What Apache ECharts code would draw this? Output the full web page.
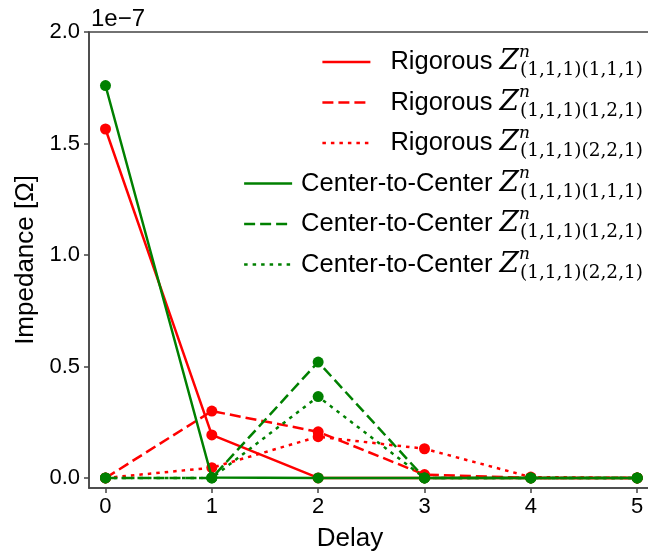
<!DOCTYPE html>
<html>
<head>
<meta charset="UTF-8">
<title>Impedance vs Delay</title>
<script src="https://cdn.jsdelivr.net/npm/echarts@6/dist/echarts.min.js"></script>
<style>
  body { margin:0; background:#fff; }
  #main { width:648px; height:551px; }
</style>
</head>
<body>
<div id="main"></div>
<script>
// delay index
var delays = [0, 1, 2, 3, 4, 5];
// values in units of 1e-7 Ohm
var rigorous111 = [1.565, 0.193, 0.0, 0.0, 0.0, 0.0];
var rigorous121 = [0.0, 0.300, 0.207, 0.015, 0.0, 0.0];
var rigorous221 = [0.0, 0.046, 0.185, 0.131, 0.004, 0.0];
var c2c111 = [1.76, 0.002, 0.0, 0.0, 0.0, 0.0];
var c2c121 = [0.0, 0.0, 0.520, 0.0, 0.0, 0.0];
var c2c221 = [0.0, 0.0, 0.365, 0.0, 0.0, 0.0];

var yTicks = [0, 0.5, 1.0, 1.5, 2.0];
var xTicks = [0, 1, 2, 3, 4, 5];
var offsetText = '1e\u22127';

var labelPrefix = ['Rigorous', 'Rigorous', 'Rigorous', 'Center-to-Center', 'Center-to-Center', 'Center-to-Center'];
var labelSub = ['(1,1,1)(1,1,1)', '(1,1,1)(1,2,1)', '(1,1,1)(2,2,1)', '(1,1,1)(1,1,1)', '(1,1,1)(1,2,1)', '(1,1,1)(2,2,1)'];
var seriesData = [rigorous111, rigorous121, rigorous221, c2c111, c2c121, c2c221];
var seriesColor = ['#ff0000', '#ff0000', '#ff0000', '#008000', '#008000', '#008000'];
var seriesDash = ['solid', [11, 5], [3.5, 5], 'solid', [11, 5], [3.5, 5]];

var FONT = 'Liberation Sans, Arial, sans-serif';
var MATH = 'DejaVu Serif, serif';

var names = [];
for (var i = 0; i < labelPrefix.length; i++) names.push(labelPrefix[i] + ' Z' + labelSub[i]);

var series = [];
for (var i = 0; i < names.length; i++) {
  var pts = [];
  for (var k = 0; k < delays.length; k++) pts.push([delays[k], seriesData[i][k]]);
  series.push({
    name: names[i],
    type: 'line',
    data: pts,
    symbol: 'circle',
    symbolSize: 11,
    showSymbol: true,
    color: seriesColor[i],
    itemStyle: { color: seriesColor[i] },
    lineStyle: { color: seriesColor[i], width: 2.5, type: seriesDash[i], cap: 'butt' },
    animation: false,
    z: 2 + i
  });
}

var rich = {
  t: { fontFamily: FONT, fontSize: 25.5, color: '#000', lineHeight: 36, verticalAlign: 'middle' },
  z: { fontFamily: MATH, fontStyle: 'italic', fontSize: 28, color: '#000', verticalAlign: 'middle', lineHeight: 36 },
  n: { fontFamily: MATH, fontStyle: 'italic', fontSize: 17, color: '#000', verticalAlign: 'top', lineHeight: 16, width: 1 },
  s: { fontFamily: MATH, fontSize: 18.5, color: '#000', verticalAlign: 'bottom', lineHeight: 21 }
};

var legends = [];
for (var i = 0; i < names.length; i++) {
  legends.push({
    data: [names[i]],
    right: 5,
    top: 44 + i * 40.5,
    orient: 'vertical',
    itemWidth: 48,
    itemHeight: 14,
    padding: 0,
    itemStyle: { opacity: 0 },
    lineStyle: { width: 2.5 },
    selectedMode: false,
    formatter: (function (idx) {
      return function () {
        return '{t|' + labelPrefix[idx] + ' }{z|Z}{n|n}{s|' + labelSub[idx] + '}';
      };
    })(i),
    textStyle: { rich: rich, padding: [0, 0, 0, i < 3 ? 15 : 4] }
  });
}

var chart = echarts.init(document.getElementById('main'), null, { renderer: 'canvas' });
chart.setOption({
  backgroundColor: '#fff',
  animation: false,
  grid: {
    left: 89, top: 32, right: -3, bottom: 63, outerBoundsMode: 'none', containLabel: false,
    show: true, borderColor: '#444', borderWidth: 1.5, backgroundColor: 'transparent'
  },
  legend: legends,
  xAxis: {
    type: 'value',
    min: -0.155,
    max: 5.13,
    name: 'Delay',
    nameLocation: 'middle',
    nameGap: 38,
    nameTextStyle: { fontFamily: FONT, fontSize: 26, color: '#000', padding: [0, 40, 0, 0] },
    axisLine: { show: true, onZero: false, lineStyle: { color: '#444', width: 1.5 } },
    axisTick: { show: true, length: 5, inside: false, customValues: xTicks, lineStyle: { color: '#444', width: 1.5 } },
    axisLabel: { customValues: xTicks, fontFamily: FONT, fontSize: 22, color: '#000', margin: 8 },
    splitLine: { show: false }
  },
  yAxis: {
    type: 'value',
    min: -0.045,
    max: 2.0,
    name: 'Impedance [\u03a9]',
    nameLocation: 'middle',
    nameGap: 47,
    nameRotate: 90,
    nameTextStyle: { fontFamily: FONT, fontSize: 26, color: '#000' },
    axisLine: { show: true, onZero: false, lineStyle: { color: '#444', width: 1.5 } },
    axisTick: { show: true, length: 5, inside: false, customValues: yTicks, lineStyle: { color: '#444', width: 1.5 } },
    axisLabel: {
      customValues: yTicks, fontFamily: FONT, fontSize: 22, color: '#000', margin: 9,
      formatter: function (v) { return v.toFixed(1); }
    },
    splitLine: { show: false }
  },
  graphic: [{
    type: 'text',
    left: 91,
    top: 7,
    style: { text: offsetText, font: '24px ' + FONT, fill: '#000' }
  }],
  series: series
});
</script>
</body>
</html>
